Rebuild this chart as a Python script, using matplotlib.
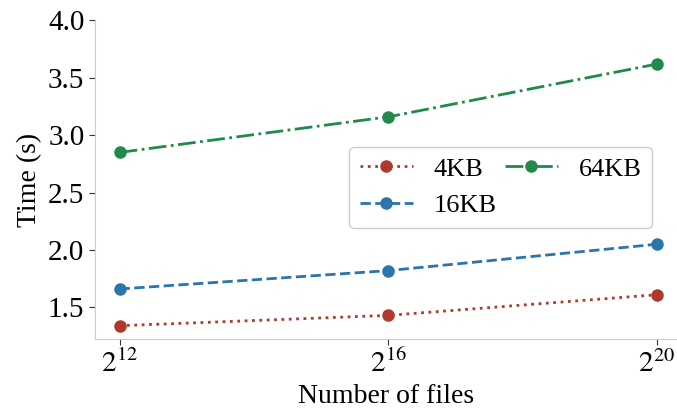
import matplotlib
matplotlib.use('Agg')
import matplotlib.pyplot as plt

plt.rcParams['font.family'] = ['Liberation Serif', 'DejaVu Serif']
plt.rcParams['mathtext.fontset'] = 'stix'

files = [2**12, 2**16, 2**20]
t_4kb = [1.34, 1.43, 1.61]
t_16kb = [1.66, 1.82, 2.05]
t_64kb = [2.85, 3.16, 3.62]

fig, ax = plt.subplots(figsize=(6.77, 4.09), dpi=100)
ax.plot(files, t_4kb, color='#b0392d', linestyle=':', linewidth=2, marker='o', markersize=8, label='4KB')
ax.plot(files, t_16kb, color='#2a75ac', linestyle='--', linewidth=2, marker='o', markersize=8, label='16KB')
ax.plot(files, t_64kb, color='#1f8a4a', linestyle='-.', linewidth=2, marker='o', markersize=8, label='64KB')

ax.set_xscale('log', base=2)
ax.set_xticks(files)
ax.set_xticklabels([r'$2^{12}$', r'$2^{16}$', r'$2^{20}$'])
ax.minorticks_off()
ax.set_xlim(2**11.63, 2**20.3)
ax.set_ylim(1.22, 4.0)
ax.set_yticks([1.5, 2.0, 2.5, 3.0, 3.5, 4.0])
ax.tick_params(labelsize=21, length=4, color='#333333')
ax.set_xlabel('Number of files', fontsize=20)
ax.set_ylabel('Time (s)', fontsize=20)

for s in ['top', 'right']:
    ax.spines[s].set_visible(False)
for s in ['left', 'bottom']:
    ax.spines[s].set_color('#cccccc')

ax.legend(ncol=2, fontsize=19, loc='center right', bbox_to_anchor=(0.98, 0.477),
          columnspacing=0.3, edgecolor='#cccccc', framealpha=1)

fig.subplots_adjust(left=0.14, right=1.0, top=0.95, bottom=0.17)
fig.savefig('out.png')
